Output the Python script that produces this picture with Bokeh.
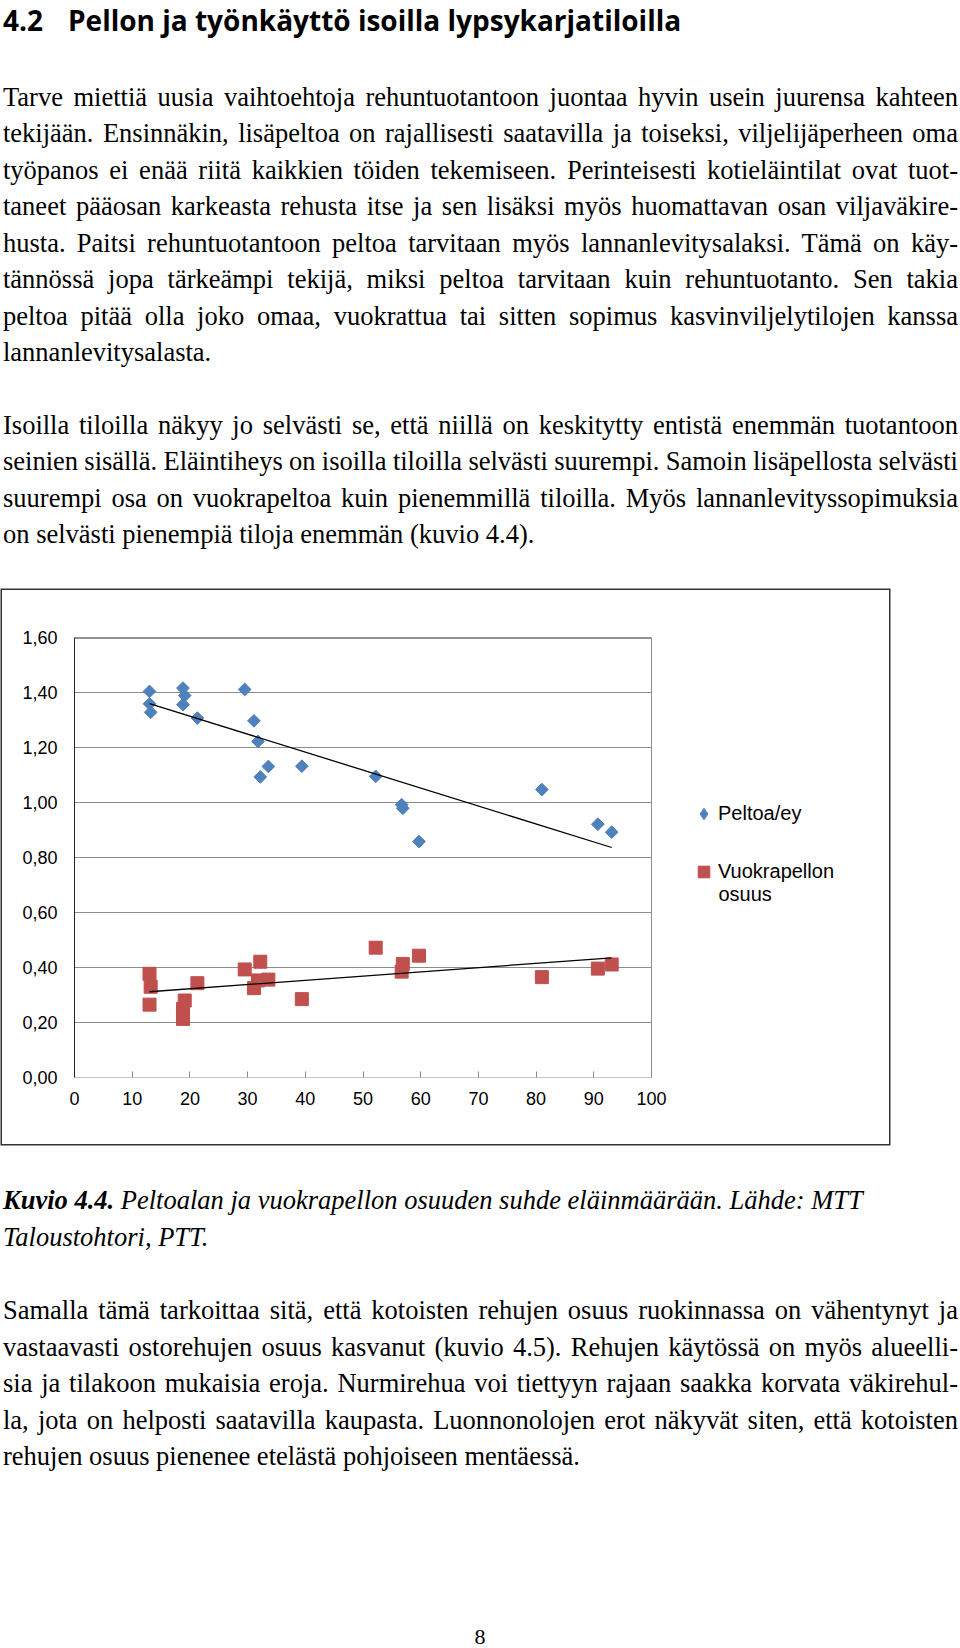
import numpy as np
from bokeh.plotting import figure
from bokeh.models import (Div, Range1d, FixedTicker, CustomJSTickFormatter,
                          Legend, LegendItem, Label, ColumnDataSource, CDSView, IndexFilter)
from bokeh.layouts import column
from bokeh.embed import file_html
from bokeh.resources import INLINE

# ---------------- data ----------------
farm_size = [13.0, 13.0, 13.2, 18.8, 19.1, 18.8, 21.3, 29.5, 31.1, 31.8,
             32.2, 33.6, 39.4, 52.2, 56.7, 56.9, 59.7, 81.0, 90.7, 93.1]
field_per_cow = [1.404, 1.359, 1.328, 1.416, 1.389, 1.356, 1.307, 1.411, 1.297, 1.222,
                 1.093, 1.131, 1.132, 1.095, 0.992, 0.979, 0.858, 1.047, 0.921, 0.892]
rented_share = [0.377, 0.265, 0.330, 0.250, 0.280, 0.213, 0.343, 0.393, 0.325, 0.353,
                0.421, 0.356, 0.285, 0.472, 0.385, 0.413, 0.443, 0.365, 0.396, 0.411]
x_ticks = [0, 10, 20, 30, 40, 50, 60, 70, 80, 90, 100]
y_ticks = [0.0, 0.2, 0.4, 0.6, 0.8, 1.0, 1.2, 1.4, 1.6]
series_names = ["Peltoa/ey", "Vuokrapellon", "osuus"]

title_num = "4.2"
title_text = "Pellon ja työnkäyttö isoilla lypsykarjatiloilla"
para1 = [
    "Tarve miettiä uusia vaihtoehtoja rehuntuotantoon juontaa hyvin usein juurensa kahteen",
    "tekijään. Ensinnäkin, lisäpeltoa on rajallisesti saatavilla ja toiseksi, viljelijäperheen oma",
    "työpanos ei enää riitä kaikkien töiden tekemiseen. Perinteisesti kotieläintilat ovat tuot-",
    "taneet pääosan karkeasta rehusta itse ja sen lisäksi myös huomattavan osan viljaväkire-",
    "husta. Paitsi rehuntuotantoon peltoa tarvitaan myös lannanlevitysalaksi. Tämä on käy-",
    "tännössä jopa tärkeämpi tekijä, miksi peltoa tarvitaan kuin rehuntuotanto. Sen takia",
    "peltoa pitää olla joko omaa, vuokrattua tai sitten sopimus kasvinviljelytilojen kanssa",
    "lannanlevitysalasta.",
]
para2 = [
    "Isoilla tiloilla näkyy jo selvästi se, että niillä on keskitytty entistä enemmän tuotantoon",
    "seinien sisällä. Eläintiheys on isoilla tiloilla selvästi suurempi. Samoin lisäpellosta selvästi",
    "suurempi osa on vuokrapeltoa kuin pienemmillä tiloilla. Myös lannanlevityssopimuksia",
    "on selvästi pienempiä tiloja enemmän (kuvio 4.4).",
]
caption_bold = "Kuvio 4.4."
caption_lines = [
    " Peltoalan ja vuokrapellon osuuden suhde eläinmäärään. Lähde: MTT",
    "Taloustohtori, PTT.",
]
para3 = [
    "Samalla tämä tarkoittaa sitä, että kotoisten rehujen osuus ruokinnassa on vähentynyt ja",
    "vastaavasti ostorehujen osuus kasvanut (kuvio 4.5). Rehujen käytössä on myös alueelli-",
    "sia ja tilakoon mukaisia eroja. Nurmirehua voi tiettyyn rajaan saakka korvata väkirehul-",
    "la, jota on helposti saatavilla kaupasta. Luonnonolojen erot näkyvät siten, että kotoisten",
    "rehujen osuus pienenee etelästä pohjoiseen mentäessä.",
]
page_number = "8"

# ---------------- text helpers ----------------
LH = 36.5
X0 = 3
TW = 955
SERIF = "'Liberation Serif','DejaVu Serif',serif"


def block(lines, top0, justify=True):
    out = []
    for i, t in enumerate(lines):
        last = i == len(lines) - 1
        if justify and not last:
            align = "text-align:justify;text-align-last:justify;word-spacing:-2px;"
        else:
            align = "text-align:left;"
        out.append(
            f'<div style="position:absolute;left:{X0}px;top:{top0 + i * LH:.1f}px;'
            f'width:{TW}px;height:{LH}px;line-height:{LH}px;{align}">{t}</div>'
        )
    return "".join(out)


DIV1_H = 590
FIG_H = 554
DIV2_H = 1648 - DIV1_H - FIG_H

top_html = (
    f'<div style="position:relative;width:960px;height:{DIV1_H}px;font-family:{SERIF};'
    f'font-size:26.5px;color:#000;">'
    f'<div style="position:absolute;left:{X0}px;top:0.5px;height:38px;line-height:38px;'
    f'white-space:nowrap;font-family:\'Open Sans\',sans-serif;font-weight:700;font-size:28px;color:#000;">'
    f'<span style="display:inline-block;width:65px">{title_num}</span>{title_text}</div>'
    + block(para1, 78.5)
    + block(para2, 406.6)
    + '</div>'
)

cap_html = (
    f'<div style="position:absolute;left:{X0}px;top:38px;height:{LH}px;line-height:{LH}px;'
    f'white-space:nowrap;font-style:italic;"><b>{caption_bold}</b>{caption_lines[0]}</div>'
    f'<div style="position:absolute;left:{X0}px;top:{38 + LH:.1f}px;height:{LH}px;line-height:{LH}px;'
    f'white-space:nowrap;font-style:italic;">{caption_lines[1]}</div>'
)
bottom_html = (
    f'<div style="position:relative;width:960px;height:{DIV2_H}px;font-family:{SERIF};'
    f'font-size:26.5px;color:#000;">'
    + cap_html
    + block(para3, 148)
    + f'<div style="position:absolute;left:0;top:480px;width:960px;height:24px;line-height:26px;'
      f'text-align:center;font-size:22px;">{page_number}</div>'
    + '</div>'
)

div_top = Div(text=top_html, width=960, height=DIV1_H, margin=0)
div_bottom = Div(text=bottom_html, width=960, height=DIV2_H, margin=0)

# ---------------- chart ----------------
BLUE = "#4f81bd"
RED = "#c0504d"
GRID = "#8c8c8c"
FONT = "Liberation Sans"

# The plot frame runs on to the right edge of the chart box so the legend can sit
# inside it; the data area (0..100) keeps its own border and grid.
PLOT_W = 577      # pixels for x = 0..100
FRAME_W = 806     # full frame width
p = figure(width=887, height=FIG_H,
           x_range=Range1d(0, x_ticks[-1] * FRAME_W / PLOT_W), y_range=Range1d(0, 1.6),
           output_backend="svg", toolbar_location=None,
           min_border_left=72, min_border_right=9, min_border_top=47, min_border_bottom=67,
           background_fill_color="white", border_fill_color="white", margin=(0, 0, 0, 2))
p.styles = {"box-shadow": "0 0 0 1.5px #333333"}
p.outline_line_color = None
p.xgrid.visible = False
p.ygrid.visible = False

p.xaxis.ticker = FixedTicker(ticks=x_ticks)
p.yaxis.ticker = FixedTicker(ticks=y_ticks)
p.yaxis.formatter = CustomJSTickFormatter(code="return tick.toFixed(2).replace('.', ',');")

for ax in (p.xaxis[0], p.yaxis[0]):
    ax.major_label_text_font = FONT
    ax.major_label_text_font_size = "18px"
    ax.major_label_text_color = "#000000"
    ax.minor_tick_line_color = None

p.xaxis.axis_line_color = None
p.xaxis.major_tick_line_color = GRID
p.xaxis.major_tick_in = 6
p.xaxis.major_tick_out = 0
p.xaxis.major_label_standoff = 14

p.yaxis.axis_line_color = "#222222"
p.yaxis.major_tick_line_color = None
p.yaxis.major_tick_in = 0
p.yaxis.major_tick_out = 0
p.yaxis.major_label_standoff = 17

# horizontal grid / border of the data area, drawn from the tick values
x_lo, x_hi = x_ticks[0], x_ticks[-1]
grid_y = y_ticks[:-1]
p.segment(x0=[x_lo] * len(grid_y), y0=grid_y, x1=[x_hi] * len(grid_y), y1=grid_y,
          line_color=GRID, line_width=1)
p.segment(x0=[x_lo], y0=[y_ticks[-1]], x1=[x_hi], y1=[y_ticks[-1]],
          line_color="#222222", line_width=2)
p.segment(x0=[x_hi], y0=[y_ticks[0]], x1=[x_hi], y1=[y_ticks[-1]],
          line_color=GRID, line_width=1)

# trend lines (least squares)
xs = np.array(farm_size)
xline = np.array([xs.min(), xs.max()])
b1 = np.polyfit(xs, np.array(field_per_cow), 1)
b2 = np.polyfit(xs, np.array(rented_share), 1)

blue_src = ColumnDataSource(dict(x=farm_size, y=field_per_cow))

# legend glyph (diamond) for the blue series: drawn for one point only, and hidden
# under that point's own marker
r_leg = p.scatter("x", "y", source=blue_src, view=CDSView(filter=IndexFilter(indices=[0])),
                  marker="diamond", size=11, fill_color=BLUE, line_color=BLUE)
r_sq = p.scatter(farm_size, rented_share, marker="square", size=13,
                 fill_color=RED, line_color=RED)
r_di = p.scatter("x", "y", source=blue_src, marker="square", size=9, angle=np.pi / 4,
                 fill_color=BLUE, line_color=BLUE)
p.line(xline, np.polyval(b1, xline), line_color="black", line_width=1.3)
p.line(xline, np.polyval(b2, xline), line_color="black", line_width=1.3)

legend = Legend(
    items=[LegendItem(label=series_names[0], renderers=[r_leg]),
           LegendItem(label=series_names[1], renderers=[r_sq])],
    location=(615, 190.5), glyph_width=29, glyph_height=31, label_standoff=0,
    padding=0, margin=0, border_line_color=None, background_fill_alpha=0,
    label_text_font=FONT, label_text_font_size="20px", label_text_color="#000000",
    spacing=27, label_height=22)
p.add_layout(legend)
p.add_layout(Label(x=644, y=184, x_units="screen", y_units="screen", text=series_names[2],
                   text_font=FONT, text_font_size="20px", text_baseline="middle",
                   text_align="left", text_color="#000000"))

layout = column(div_top, p, div_bottom, spacing=0)
open("out.html", "w").write(file_html(layout, INLINE))
